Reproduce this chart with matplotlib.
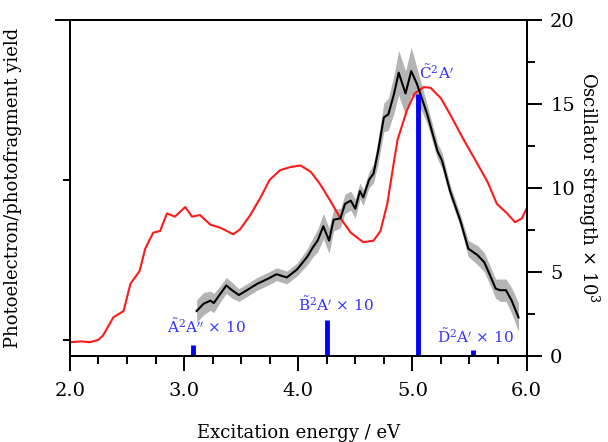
import numpy as np
import matplotlib
matplotlib.use("Agg")
import matplotlib.pyplot as plt
from matplotlib.ticker import MultipleLocator

plt.rcParams['font.family'] = ['DejaVu Serif']
plt.rcParams['mathtext.fontset'] = 'dejavuserif'

# --- photoelectron yield (red), arbitrary units ---
pe_x = [2.0, 2.1, 2.175, 2.25, 2.29, 2.38, 2.47, 2.53, 2.61, 2.66, 2.73, 2.79,
        2.85, 2.92, 3.01, 3.07, 3.14, 3.23, 3.32, 3.43, 3.49, 3.58, 3.67, 3.75,
        3.84, 3.93, 4.02, 4.11, 4.19, 4.28, 4.37, 4.46, 4.57, 4.66, 4.72, 4.78,
        4.84, 4.87, 4.91, 4.95, 5.02, 5.10, 5.16, 5.25, 5.33, 5.45, 5.57, 5.66,
        5.74, 5.83, 5.90, 5.96, 6.0]
pe_y = [-0.015, -0.01, -0.015, 0.0, 0.027, 0.14, 0.18, 0.35, 0.43, 0.57, 0.67, 0.68,
        0.79, 0.77, 0.83, 0.77, 0.78, 0.72, 0.70, 0.66, 0.69, 0.78, 0.89, 1.0,
        1.06, 1.08, 1.09, 1.05, 0.975, 0.87, 0.76, 0.67, 0.61, 0.62, 0.68, 0.85,
        1.12, 1.25, 1.34, 1.43, 1.54, 1.58, 1.575, 1.51, 1.41, 1.25, 1.10, 0.985,
        0.85, 0.79, 0.735, 0.76, 0.82]

# --- photofragment yield (black) with uncertainty band ---
pf_x = [3.11, 3.17, 3.23, 3.26, 3.32, 3.37, 3.42, 3.48, 3.55, 3.64, 3.73, 3.81,
        3.90, 3.99, 4.08, 4.13, 4.17, 4.22, 4.27, 4.31, 4.37, 4.41, 4.46, 4.50,
        4.54, 4.57, 4.62, 4.66, 4.70, 4.75, 4.79, 4.84, 4.88, 4.94, 4.99, 5.04,
        5.13, 5.22, 5.26, 5.33, 5.42, 5.49, 5.57, 5.63, 5.67, 5.73, 5.77, 5.82,
        5.87, 5.93]
pf_y = [0.18, 0.225, 0.245, 0.23, 0.29, 0.34, 0.31, 0.28, 0.31, 0.35, 0.38, 0.41,
        0.39, 0.44, 0.52, 0.58, 0.62, 0.71, 0.62, 0.75, 0.76, 0.85, 0.87, 0.82,
        0.93, 0.89, 1.0, 1.04, 1.18, 1.39, 1.41, 1.54, 1.67, 1.54, 1.68, 1.60,
        1.41, 1.18, 1.12, 0.93, 0.745, 0.57, 0.53, 0.485, 0.42, 0.32, 0.31, 0.31,
        0.245, 0.14]
pf_err = [0.07, 0.07, 0.06, 0.06, 0.05, 0.05, 0.05, 0.04, 0.04, 0.04, 0.04, 0.04,
          0.04, 0.04, 0.05, 0.06, 0.07, 0.08, 0.08, 0.07, 0.06, 0.06, 0.06, 0.06,
          0.05, 0.05, 0.05, 0.06, 0.08, 0.09, 0.10, 0.12, 0.14, 0.14, 0.15, 0.10,
          0.06, 0.05, 0.05, 0.04, 0.04, 0.05, 0.06, 0.06, 0.06, 0.06, 0.07, 0.07,
          0.08, 0.09]

# --- calculated transitions (blue sticks), oscillator strength x 10^3 ---
st_x = [3.08, 4.25, 5.05, 5.53]
st_f = [0.64, 2.13, 15.6, 0.34]
st_lab = [r"$\tilde{\mathrm{A}}^{2}\mathrm{A}''$ × 10",
          r"$\tilde{\mathrm{B}}^{2}\mathrm{A}'$ × 10",
          r"$\tilde{\mathrm{C}}^{2}\mathrm{A}'$",
          r"$\tilde{\mathrm{D}}^{2}\mathrm{A}'$ × 10"]
lab_pos = [(2.85, 1.2), (4.0, 2.5), (5.06, 16.3), (5.22, 0.6)]

fig = plt.figure(figsize=(6.08, 4.42), dpi=100)
ax = fig.add_axes([0.115, 0.195, 0.751, 0.76])
ax2 = ax.twinx()

pf_y = np.array(pf_y)
pf_err = np.array(pf_err)
ax.fill_between(pf_x, pf_y - pf_err, pf_y + pf_err, color='#b4b4b4', lw=0)
ax.plot(pe_x, pe_y, color='#ff1a1a', lw=1.5)
ax.plot(pf_x, pf_y, color='black', lw=1.5)

ax2.vlines(st_x, 0, st_f, color='blue', lw=3.5)
for lab, (lx, ly) in zip(st_lab, lab_pos):
    ax2.text(lx, ly, lab, color='#3333ff', fontsize=11, ha='left', va='bottom')

ax.set_xlim(2.0, 6.0)
ax.set_ylim(-0.1, 2.0)
ax2.set_ylim(0, 20)

# x axis ticks (lengths in points, 1 pt = 1.39 px here)
ax.xaxis.set_major_locator(MultipleLocator(1.0))
ax.xaxis.set_minor_locator(MultipleLocator(0.25))
ax.set_xticklabels([f"{v:.1f}" for v in ax.get_xticks()])
ax.tick_params(axis='x', which='major', direction='out', length=11, width=1.4,
               labelsize=14, pad=8)
ax.tick_params(axis='x', which='minor', direction='out', length=6, width=1.4)

# left axis: unlabeled ticks
ax.set_yticks([0, 1])
ax.set_yticks([2], minor=True)
ax.set_yticklabels([])
ax.tick_params(axis='y', which='major', direction='out', length=5, width=1.4)
ax.tick_params(axis='y', which='minor', direction='out', length=11, width=1.4)

# right axis
ax2.yaxis.set_major_locator(MultipleLocator(5))
ax2.yaxis.set_minor_locator(MultipleLocator(2.5))
ax2.tick_params(axis='y', which='major', direction='out', length=11, width=1.4,
                labelsize=14, pad=6)
ax2.tick_params(axis='y', which='minor', direction='out', length=6, width=1.4)

for a in (ax, ax2):
    for s in a.spines.values():
        s.set_linewidth(1.4)

ax.set_xlabel("Excitation energy / eV", fontsize=13, labelpad=17)
ax.set_ylabel("Photoelectron/photofragment yield", fontsize=13, labelpad=20)
ax2.set_ylabel(r"Oscillator strength × 10$^{3}$", fontsize=13, rotation=270,
               labelpad=19)

fig.savefig("out.png", dpi=100)
